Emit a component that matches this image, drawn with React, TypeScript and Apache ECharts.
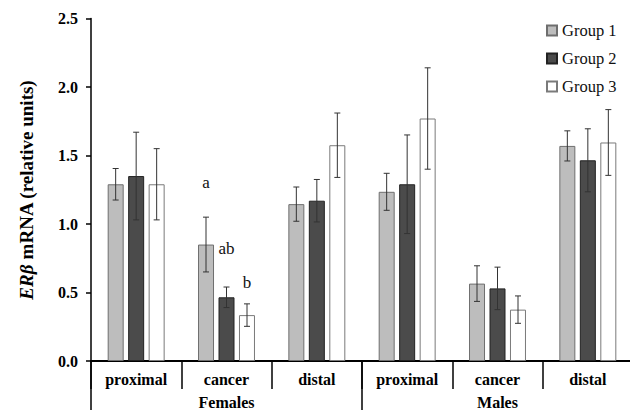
import React, { useEffect, useRef } from "react";
import * as echarts from "echarts";

const categories = ["proximal", "cancer", "distal", "proximal", "cancer", "distal"];
const sexGroups = ["Females", "Males"];
const seriesNames = ["Group 1", "Group 2", "Group 3"];
const group1 = [1.29, 0.85, 1.145, 1.235, 0.565, 1.57];
const group1Err = [0.115, 0.2, 0.125, 0.135, 0.13, 0.11];
const group2 = [1.35, 0.465, 1.17, 1.29, 0.53, 1.465];
const group2Err = [0.32, 0.075, 0.155, 0.36, 0.155, 0.23];
const group3 = [1.29, 0.335, 1.575, 1.77, 0.375, 1.595];
const group3Err = [0.26, 0.082, 0.235, 0.37, 0.1, 0.24];
const letters1 = ["", "a", "", "", "", ""];
const letters1Y = [0, 1.3, 0, 0, 0, 0];
const letters2 = ["", "ab", "", "", "", ""];
const letters2Y = [0, 0.82, 0, 0, 0, 0];
const letters3 = ["", "b", "", "", "", ""];
const letters3Y = [0, 0.575, 0, 0, 0, 0];
const yTicks = [0, 0.5, 1.0, 1.5, 2.0, 2.5];

const FONT = "'Liberation Serif', 'Times New Roman', serif";
const BAR_W = 16;
const STEP = 20.5;

export default function App() {
  const ref = useRef<HTMLDivElement>(null);
  useEffect(() => {
    if (!ref.current) return;
    const chart = echarts.init(ref.current, null, { renderer: "svg" });
    const means = [group1, group2, group3];
    const errs = [group1Err, group2Err, group3Err];
    const letters = [letters1, letters2, letters3];
    const lettersY = [letters1Y, letters2Y, letters3Y];
    const styles = [
      { color: "#bdbdbd", borderColor: "#6e6e6e" },
      { color: "#4b4b4b", borderColor: "#222222" },
      { color: "#ffffff", borderColor: "#7a7a7a" },
    ];
    const barSeries = seriesNames.map((name, g) => ({
      name,
      type: "bar",
      xAxisIndex: 0,
      data: means[g],
      barWidth: BAR_W,
      barGap: "28%",
      itemStyle: { color: styles[g].color, borderColor: styles[g].borderColor, borderWidth: 1 },
      z: 2,
    }));
    const errSeries = seriesNames.map((name, g) => ({
      name: name + " err",
      type: "custom",
      xAxisIndex: 0,
      data: means[g].map((m, i) => [i, m, errs[g][i], letters[g][i], lettersY[g][i]]),
      z: 5,
      renderItem: (params: any, api: any) => {
        const i = api.value(0);
        const m = api.value(1);
        const e = api.value(2);
        const off = (g - 1) * STEP;
        const top = api.coord([i, m + e]);
        const bot = api.coord([i, m - e]);
        const x = top[0] + off;
        const cap = 3;
        const stroke = { stroke: "#333333", lineWidth: 1 };
        const children: any[] = [
          { type: "line", shape: { x1: x, y1: top[1], x2: x, y2: bot[1] }, style: stroke },
          { type: "line", shape: { x1: x - cap, y1: top[1], x2: x + cap, y2: top[1] }, style: stroke },
          { type: "line", shape: { x1: x - cap, y1: bot[1], x2: x + cap, y2: bot[1] }, style: stroke },
        ];
        const lt = letters[g][i];
        if (lt) {
          const p = api.coord([i, lettersY[g][i]]);
          children.push({
            type: "text",
            style: {
              text: lt,
              x: p[0] + off,
              y: p[1],
              align: "center",
              verticalAlign: "middle",
              fontFamily: FONT,
              fontSize: 17,
              fill: "#111",
            },
          });
        }
        return { type: "group", children };
      },
    }));
    chart.setOption({
      animation: false,
      backgroundColor: "#ffffff",
      textStyle: { fontFamily: FONT },
      grid: { left: 91, top: 18.5, width: 542, bottom: 49, containLabel: false, outerBoundsMode: "none" },
      legend: {
        data: seriesNames,
        orient: "vertical",
        left: 541,
        top: 17,
        itemWidth: 10,
        itemHeight: 10,
        itemGap: 11,
        icon: "rect",
        textStyle: { fontFamily: FONT, fontSize: 16.5, color: "#111" },
      },
      xAxis: [
        {
          type: "category",
          data: categories,
          position: "bottom",
          axisLine: { show: true, lineStyle: { color: "#000", width: 2 } },
          axisTick: { show: true, length: 28, lineStyle: { color: "#000", width: 1.5 } },
          axisLabel: { fontFamily: FONT, fontWeight: "bold", fontSize: 16, color: "#000", margin: 10 },
        },
        {
          type: "category",
          data: sexGroups,
          position: "bottom",
          gridIndex: 0,
          axisLine: { show: false },
          axisTick: { show: true, length: 60, lineStyle: { color: "#000", width: 1.5 } },
          axisLabel: { fontFamily: FONT, fontWeight: "bold", fontSize: 16, color: "#000", margin: 33 },
        },
      ],
      yAxis: {
        type: "value",
        min: 0,
        max: 2.5,
        interval: 0.5,
        splitLine: { show: false },
        axisLine: { show: true, lineStyle: { color: "#000", width: 1.5 } },
        axisTick: { show: true, length: 5, lineStyle: { color: "#000", width: 1.5 } },
        axisLabel: {
          fontFamily: FONT,
          fontWeight: "bold",
          fontSize: 16,
          color: "#000",
          margin: 13,
          formatter: (v: number) => (yTicks.includes(v) ? v.toFixed(1) : ""),
        },
        name: "{i|ERβ} mRNA (relative units)",
        nameLocation: "middle",
        nameRotate: 90,
        nameGap: 55,
        nameTextStyle: {
          fontFamily: FONT,
          fontWeight: "bold",
          fontSize: 19,
          color: "#000",
          rich: {
            i: { fontFamily: FONT, fontWeight: "bold", fontStyle: "italic", fontSize: 19, color: "#000" },
          },
        },
      },
      series: [...barSeries, ...errSeries],
    });
    return () => chart.dispose();
  }, []);
  return <div ref={ref} style={{ width: 630, height: 410, position: "absolute", left: 0, top: 0 }} />;
}
